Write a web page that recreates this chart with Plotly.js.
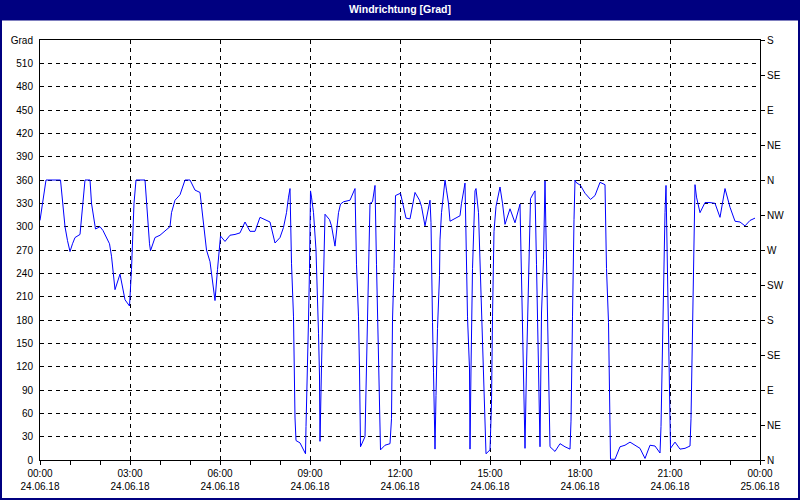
<!DOCTYPE html>
<html>
<head>
<meta charset="utf-8">
<script src="https://cdn.plot.ly/plotly-3.0.1.min.js"></script>
<style>
html,body{margin:0;padding:0;background:#fff;}
#chart{width:800px;height:500px;}
</style>
</head>
<body>
<div id="chart"></div>
<script>
const day = "2018-06-24";
const times = ["00:00","00:05","00:08","00:12","00:41","00:45","00:50","00:55","01:00","01:05","01:10","01:20","01:25","01:30","01:40","01:43","01:51","02:00","02:06","02:19","02:23","02:30","02:40","02:50","02:59","03:03","03:08","03:12","03:30","03:33","03:39","03:41","03:50","04:00","04:13","04:20","04:23","04:30","04:40","04:50","05:00","05:10","05:20","05:27","05:33","05:40","05:45","05:50","05:55","06:01","06:10","06:20","06:30","06:40","06:50","07:00","07:10","07:20","07:30","07:40","07:50","08:00","08:07","08:13","08:17","08:20","08:23","08:27","08:30","08:32","08:40","08:45","08:51","08:52","08:55","08:57","08:59","09:01","09:03","09:07","09:12","09:15","09:17","09:19","09:20","09:23","09:27","09:30","09:39","09:43","09:50","09:57","10:01","10:07","10:20","10:27","10:30","10:33","10:37","10:39","10:41","10:50","10:53","10:57","11:00","11:05","11:10","11:13","11:17","11:21","11:30","11:40","11:43","11:45","11:48","11:49","11:51","12:01","12:05","12:12","12:20","12:30","12:39","12:43","12:50","12:55","13:00","13:02","13:03","13:05","13:07","13:09","13:10","13:12","13:15","13:19","13:20","13:23","13:28","13:30","13:33","13:37","13:40","13:50","14:00","14:03","14:07","14:10","14:12","14:15","14:19","14:20","14:22","14:25","14:30","14:32","14:37","14:40","14:43","14:48","14:51","14:52","15:00","15:03","15:05","15:08","15:12","15:20","15:25","15:30","15:40","15:50","16:00","16:03","16:07","16:10","16:13","16:17","16:21","16:27","16:30","16:33","16:37","16:40","16:43","16:47","16:50","16:53","16:57","17:00","17:10","17:20","17:30","17:40","17:42","17:44","17:45","17:48","17:50","17:52","18:01","18:10","18:21","18:30","18:40","18:50","18:53","18:57","19:00","19:01","19:10","19:20","19:30","19:40","19:50","20:00","20:10","20:20","20:30","20:40","20:42","20:44","20:45","20:48","20:50","20:52","20:55","20:57","20:59","21:00","21:01","21:10","21:20","21:30","21:40","21:42","21:44","21:45","21:48","21:50","21:53","22:00","22:10","22:20","22:30","22:40","22:50","23:00","23:10","23:20","23:30","23:40","23:50"];
const direction = [308,330,343,360,360,330,300,282,268,278,286,290,330,360,360,330,297,300,295,278,262,219,239,206,198,245,330,360,360,330,278,269,286,289,297,300,318,334,341,360,360,347,344,303,270,255,231,205,245,288,281,289,290,292,306,294,294,312,309,306,279,286,299,318,338,349,253,184,54,25,22,15,8,43,110,180,246,346,338,318,270,215,163,108,24,120,220,316,309,301,275,318,329,332,334,346,349,251,184,117,17,30,117,211,330,332,353,251,117,13,19,21,53,180,246,308,340,343,330,311,310,344,334,326,301,318,334,305,240,177,113,45,14,83,169,237,283,318,347,360,347,330,307,311,314,330,347,356,288,184,117,14,117,246,346,349,318,258,184,94,34,8,13,73,184,294,326,351,330,303,323,305,329,237,117,15,120,211,336,343,346,251,120,17,189,258,359,255,120,17,11,21,17,14,50,117,184,309,360,357,353,343,335,340,357,354,246,177,31,1,1,17,19,23,19,15,2,19,18,9,43,120,180,250,318,353,250,180,110,37,15,23,14,15,18,53,117,184,255,354,338,318,331,331,330,312,349,325,307,306,301,308,311];

const xTickTimes = ["2018-06-24 00:00","2018-06-24 03:00","2018-06-24 06:00","2018-06-24 09:00","2018-06-24 12:00","2018-06-24 15:00","2018-06-24 18:00","2018-06-24 21:00","2018-06-25 00:00"];
const xTickLabels = ["00:00<br>24.06.18","03:00<br>24.06.18","06:00<br>24.06.18","09:00<br>24.06.18","12:00<br>24.06.18","15:00<br>24.06.18","18:00<br>24.06.18","21:00<br>24.06.18","00:00<br>25.06.18"];
const leftTickVals = [0,30,60,90,120,150,180,210,240,270,300,330,360,390,420,450,480,510,540];
const leftTickText = ["0","30","60","90","120","150","180","210","240","270","300","330","360","390","420","450","480","510","Grad"];
const compassVals = [0,45,90,135,180,225,270,315,360,405,450,495,540];
const compassText = ["N","NE","E","SE","S","SW","W","NW","N","NE","E","SE","S"];

const x = times.map(t => day + " " + t);
const FONT = "Liberation Sans, Arial, sans-serif";
const TF = {family: FONT, size: 10, color: "#000"};

const trace = {
  x: x, y: direction, type: "scatter", mode: "lines",
  line: {color: "#0000ff", width: 1}, hoverinfo: "skip", showlegend: false
};
const trace2 = {x: [x[0]], y: [direction[0]], yaxis: "y2", type: "scatter", mode: "lines",
  line: {color: "rgba(0,0,0,0)"}, showlegend: false, hoverinfo: "skip"};

const W = 800, H = 500, L = 40, R = 40, T = 40, B = 40;
const pw = W - L - R, ph = H - T - B;
const px = v => (v - L) / pw;
const py = v => (H - B - v) / ph;

const layout = {
  width: W, height: H,
  margin: {l: L, r: R, t: T, b: B, pad: 0},
  paper_bgcolor: "#ffffff", plot_bgcolor: "#ffffff",
  font: TF,
  title: {text: "<b>Windrichtung [Grad]</b>", font: {family: FONT, size: 10.5, color: "#ffffff"},
          x: 0.5, xanchor: "center", y: 1 - 9.5 / H, yref: "container", yanchor: "middle"},
  xaxis: {
    type: "date", range: ["2018-06-24 00:00", "2018-06-25 00:00"],
    tickvals: xTickTimes, ticktext: xTickLabels, tickmode: "array",
    ticks: "outside", ticklen: 4, tickcolor: "#000", tickwidth: 1,
    minor: {dtick: 3600000, tick0: "2018-06-24 00:00", ticks: "outside", ticklen: 4, tickcolor: "#000", showgrid: false},
    showgrid: true, gridcolor: "#000", griddash: "4px,4px", gridwidth: 1,
    showline: true, linecolor: "#000", linewidth: 1, mirror: true,
    zeroline: false, fixedrange: true, tickfont: TF
  },
  yaxis: {
    range: [0, 540], tickvals: leftTickVals, ticktext: leftTickText, tickmode: "array",
    ticks: "", showgrid: true, gridcolor: "#000", griddash: "4px,4px", gridwidth: 1,
    showline: true, linecolor: "#000", linewidth: 1, zeroline: false, fixedrange: true,
    ticklabelstandoff: 4, tickfont: TF
  },
  yaxis2: {
    range: [0, 540], overlaying: "y", side: "right",
    tickvals: compassVals, ticktext: compassText, tickmode: "array",
    ticks: "outside", ticklen: 4, tickcolor: "#000",
    showgrid: false, showline: true, linecolor: "#000", linewidth: 1, zeroline: false, fixedrange: true,
    tickfont: TF
  },
  shapes: [
    {type: "rect", xref: "paper", yref: "paper", x0: px(0), x1: px(W), y0: py(20.5), y1: py(0),
     fillcolor: "#000080", line: {width: 0}, layer: "above"},
    {type: "rect", xref: "paper", yref: "paper", x0: px(1), x1: px(W - 1), y0: py(H - 1), y1: py(1),
     fillcolor: "rgba(0,0,0,0)", line: {color: "#000080", width: 2}, layer: "above"}
  ]
};

Plotly.newPlot("chart", [trace, trace2], layout, {displayModeBar: false, staticPlot: true});
</script>
</body>
</html>
